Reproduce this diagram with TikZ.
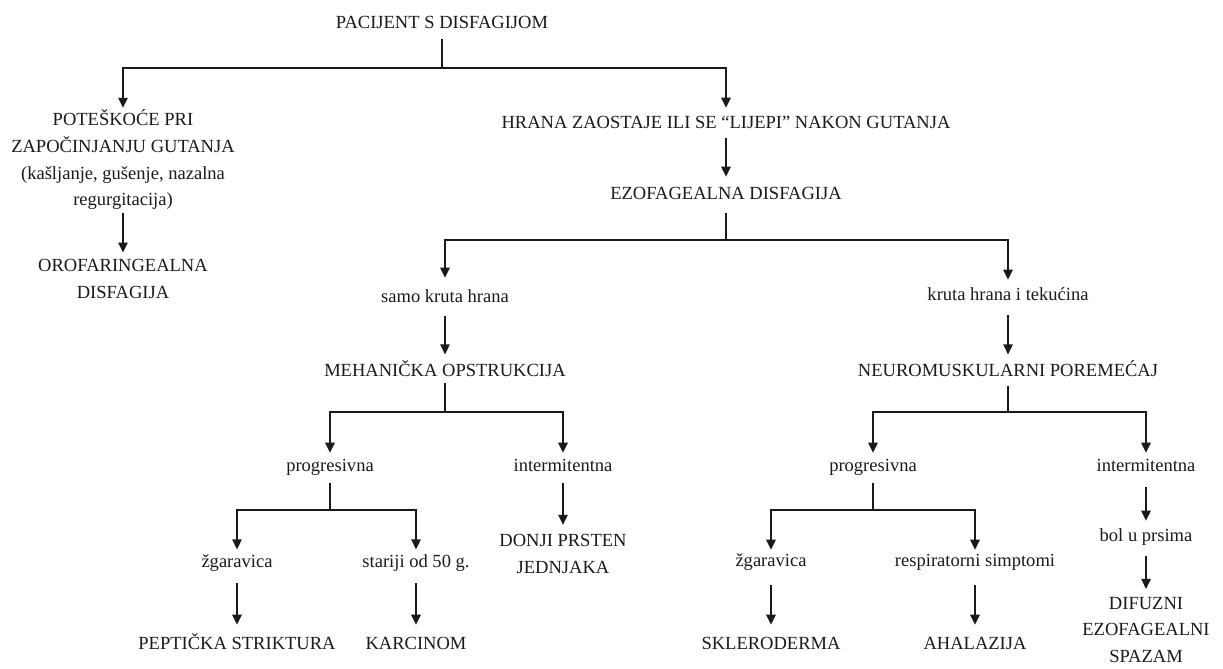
\documentclass[tikz,border=0pt]{standalone}
\usepackage{fontspec}
\setmainfont{Liberation Serif}
\usetikzlibrary{arrows.meta}
\definecolor{ink}{HTML}{1A1A1A}
\begin{document}
\begin{tikzpicture}[x=0.75pt,y=-0.75pt,
  lbl/.style={inner sep=0pt, anchor=base, text height=9pt, text depth=0pt, text=ink, font=\fontsize{13.9}{20}\selectfont},
  mlbl/.style={inner sep=0pt, anchor=center, align=center, text=ink, font=\fontsize{13.9}{20}\selectfont},
  ln/.style={line width=1.2pt, draw=ink},
  arr/.style={ln, -{Triangle[width=7pt,length=7.5pt]}},
]
\useasboundingbox (0,0) rectangle (1223,668);

% nodes
\node[lbl] (top) at (442,28) {PACIJENT S DISFAGIJOM};
\node[mlbl] (pot) at (123,160) {POTEŠKOĆE PRI\\ZAPOČINJANJU GUTANJA\\(kašljanje, gušenje, nazalna\\regurgitacija)};
\node[mlbl] (oro) at (123,279) {OROFARINGEALNA\\DISFAGIJA};
\node[lbl] (hrana) at (726,128) {HRANA ZAOSTAJE ILI SE “LIJEPI” NAKON GUTANJA};
\node[lbl] (ezo) at (726,199) {EZOFAGEALNA DISFAGIJA};
\node[lbl] (samo) at (445,302) {samo kruta hrana};
\node[lbl] (kruta) at (1008,300) {kruta hrana i tekućina};
\node[lbl] (meh) at (445,376) {MEHANIČKA OPSTRUKCIJA};
\node[lbl] (neuro) at (1008,376) {NEUROMUSKULARNI POREMEĆAJ};
\node[lbl] (prog1) at (330,471) {progresivna};
\node[lbl] (inter1) at (563,471) {intermitentna};
\node[lbl] (zg1) at (237,567) {žgaravica};
\node[lbl] (star) at (416,567) {stariji od 50 g.};
\node[lbl] (pep) at (237,649) {PEPTIČKA STRIKTURA};
\node[lbl] (karc) at (416,649) {KARCINOM};
\node[mlbl] (donji) at (563,554) {DONJI PRSTEN\\JEDNJAKA};
\node[lbl] (prog2) at (873,471) {progresivna};
\node[lbl] (inter2) at (1146,471) {intermitentna};
\node[lbl] (zg2) at (771,566) {žgaravica};
\node[lbl] (resp) at (975,566) {respiratorni simptomi};
\node[lbl] (skl) at (771,649) {SKLERODERMA};
\node[lbl] (aha) at (975,649) {AHALAZIJA};
\node[lbl] (bol) at (1146,541) {bol u prsima};
\node[mlbl] (dif) at (1146,630) {DIFUZNI\\EZOFAGEALNI\\SPAZAM};

% branch points
\coordinate (b1) at (442,68);
\coordinate (b2) at (726,240);
\coordinate (b3) at (445,412);
\coordinate (b4) at (1008,412);
\coordinate (b5) at (330,510);
\coordinate (b6) at (873,510);

% connectors
\draw[ln, shorten <=8pt] (top.south) -- (b1);
\draw[arr, shorten >=1.5pt] (b1) -| (pot.north);
\draw[arr, shorten >=6pt] (b1) -| (hrana.north);
\draw[arr, shorten <=2pt, shorten >=5pt] (pot.south) -- (oro.north);
\draw[arr, shorten <=7.5pt, shorten >=7.5pt] (hrana.south) -- (ezo.north);
\draw[ln, shorten <=10pt] (ezo.south) -- (b2);
\draw[arr, shorten >=9pt] (b2) -| (samo.north);
\draw[arr, shorten >=6pt] (b2) -| (kruta.north);
\draw[arr, shorten <=10pt, shorten >=7pt] (samo.south) -- (meh.north);
\draw[arr, shorten <=11pt, shorten >=7pt] (kruta.south) -- (neuro.north);
\draw[ln, shorten <=5pt] (meh.south) -- (b3);
\draw[arr, shorten >=4.5pt] (b3) -| (prog1.north);
\draw[arr, shorten >=4.5pt] (b3) -| (inter1.north);
\draw[ln, shorten <=7pt] (neuro.south) -- (b4);
\draw[arr, shorten >=4.5pt] (b4) -| (prog2.north);
\draw[arr, shorten >=4.5pt] (b4) -| (inter2.north);
\draw[ln, shorten <=9pt] (prog1.south) -- (b5);
\draw[arr, shorten >=4pt] (b5) -| (zg1.north);
\draw[arr, shorten >=4pt] (b5) -| (star.north);
\draw[arr, shorten <=12pt, shorten >=9pt] (zg1.south) -- (pep.north);
\draw[arr, shorten <=12pt, shorten >=9pt] (star.south) -- (karc.north);
\draw[arr, shorten <=9pt, shorten >=7pt] (inter1.south) -- (donji.north);
\draw[ln, shorten <=9pt] (prog2.south) -- (b6);
\draw[arr, shorten >=3pt] (b6) -| (zg2.north);
\draw[arr, shorten >=3pt] (b6) -| (resp.north);
\draw[arr, shorten <=14pt, shorten >=9pt] (zg2.south) -- (skl.north);
\draw[arr, shorten <=14pt, shorten >=9pt] (resp.south) -- (aha.north);
\draw[arr, shorten <=12pt, shorten >=6pt] (inter2.south) -- (bol.north);
\draw[arr, shorten <=11pt, shorten >=6pt] (bol.south) -- (dif.north);
\end{tikzpicture}
\end{document}
